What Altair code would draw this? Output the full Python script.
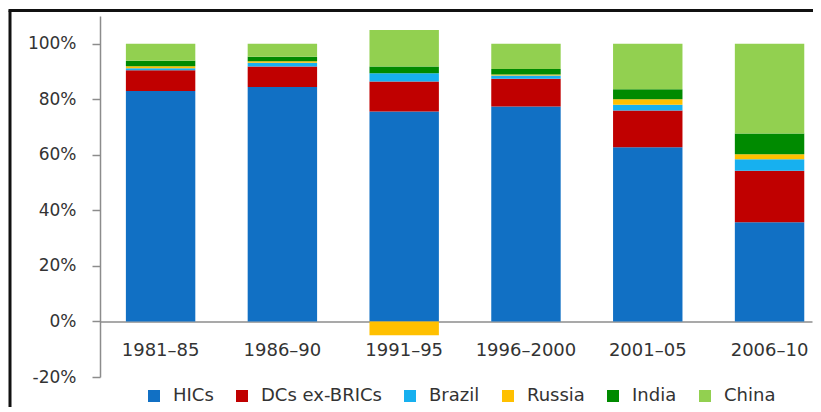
import altair as alt
import pandas as pd

periods = ["1981–85", "1986–90", "1991–95", "1996–2000", "2001–05", "2006–10"]
series = ["HICs", "DCs ex-BRICs", "Brazil", "Russia", "India", "China"]
colors = ["#1170c4", "#c00000", "#17b0ef", "#ffc000", "#008a00", "#92d050"]

hics = [83.0, 84.4, 75.6, 77.4, 62.7, 35.7]
dcs = [7.5, 7.4, 10.8, 10.0, 13.3, 18.6]
brazil = [0.7, 1.4, 3.0, 1.2, 2.0, 4.1]
russia = [0.7, 0.5, -5.0, 0.3, 2.0, 1.8]
india = [2.0, 1.6, 2.4, 2.0, 3.6, 7.5]
china = [6.1, 4.7, 13.2, 9.1, 16.4, 32.3]

y_ticks = [-20, 0, 20, 40, 60, 80, 100]

values = [hics, dcs, brazil, russia, india, china]
rows = []
for si, (s, vals) in enumerate(zip(series, values)):
    for p, v in zip(periods, vals):
        rows.append({"period": p, "series": s, "value": v, "idx": si})
df = pd.DataFrame(rows)

FONT = "DejaVu Sans"
TXT = "#333333"

bars = alt.Chart(df).mark_bar().encode(
    x=alt.X("period:N", sort=periods,
            scale=alt.Scale(paddingInner=0.43, paddingOuter=0.138, align=0.77),
            axis=alt.Axis(title=None, labelAngle=0, offset=-55.5, ticks=False,
                          domainColor="#8c8c8c", domainWidth=1.5,
                          labelFontSize=18, labelColor=TXT, labelPadding=20,
                          labelFont=FONT)),
    y=alt.Y("value:Q", stack="zero",
            scale=alt.Scale(domain=[-20, 110], nice=False, zero=False),
            axis=alt.Axis(title=None, values=y_ticks, labelExpr="datum.value + '%'",
                          grid=False, tickSize=8, tickColor="#8c8c8c", tickWidth=1.5,
                          domainColor="#8c8c8c", domainWidth=1.5,
                          labelFontSize=17, labelColor=TXT, labelPadding=16,
                          labelFont=FONT)),
    color=alt.Color("series:N", sort=series,
                    scale=alt.Scale(domain=series, range=colors),
                    legend=alt.Legend(title=None, orient="none", legendX=45, legendY=371,
                                      direction="horizontal", columns=6,
                                      symbolType="square", symbolSize=144,
                                      symbolStrokeWidth=0, labelFontSize=18,
                                      labelFont=FONT, labelColor=TXT,
                                      columnPadding=19, labelOffset=10)),
    order=alt.Order("idx:Q"),
)

frame_df = pd.DataFrame({"a": [0]})
left_border = alt.Chart(frame_df).mark_rule(color="#111111", strokeWidth=3).encode(
    x=alt.value(-90), y=alt.value(-5.5), y2=alt.value(420))
top_border = alt.Chart(frame_df).mark_rule(color="#111111", strokeWidth=3).encode(
    x=alt.value(-91.5), x2=alt.value(730), y=alt.value(-5.5))

chart = alt.layer(bars, left_border, top_border).properties(
    width=712, height=361,
    autosize=alt.AutoSizeParams(type="none"),
    padding={"left": 92, "top": 8, "right": 1, "bottom": 30},
    background="white",
).configure_view(stroke=None)

chart.save("out.html", embed_options={"renderer": "svg", "actions": False})
